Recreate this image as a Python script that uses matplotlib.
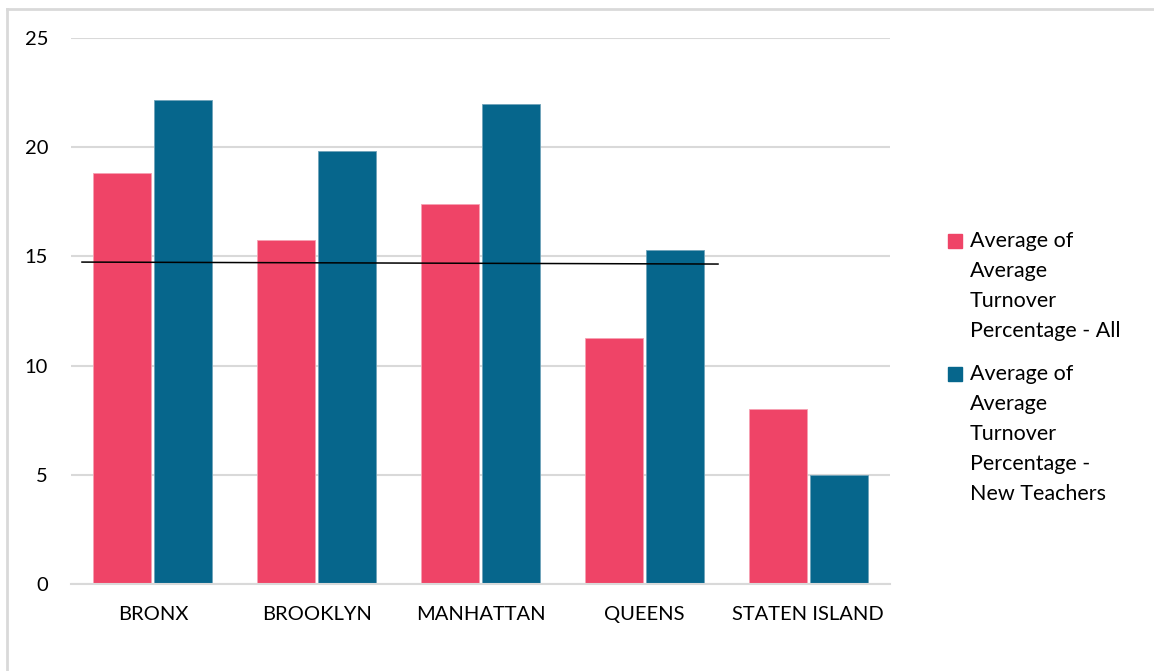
import matplotlib.pyplot as plt
from matplotlib.lines import Line2D
from matplotlib.patches import Rectangle
import numpy as np

plt.rcParams['font.family'] = ['Lato', 'DejaVu Sans']

boroughs = ['BRONX', 'BROOKLYN', 'MANHATTAN', 'QUEENS', 'STATEN ISLAND']
turnover_all = [18.82, 15.75, 17.40, 11.26, 8.01]
turnover_new = [22.16, 19.83, 21.98, 15.29, 4.99]
series_labels = ['Average of\nAverage\nTurnover\nPercentage - All',
                 'Average of\nAverage\nTurnover\nPercentage -\nNew Teachers']
y_ticks = [0, 5, 10, 15, 20, 25]

# hand-drawn reference line across the bars
ref_x = [-0.433, 3.45]
ref_y = [14.74, 14.65]

pink = '#EF4467'
blue = '#06668C'

fig = plt.figure(figsize=(11.54, 6.71), dpi=100)
W, H = 1154, 671
ax = fig.add_axes([71 / W, 1 - 584 / H, (890 - 71) / W, (584 - 38) / H])

x = np.arange(len(boroughs))
w = 0.354
off = 0.186
ax.bar(x - off, turnover_all, w, color=pink, edgecolor='#F7A0B2', linewidth=0.6, zorder=2)
ax.bar(x + off, turnover_new, w, color=blue, edgecolor='#6FA3BA', linewidth=0.6, zorder=2)
ax.plot(ref_x, ref_y, color='black', linewidth=1.1, zorder=3)

ax.set_xlim(-0.5, len(boroughs) - 0.5)
ax.set_ylim(0, 25)
ax.set_yticks(y_ticks)
ax.set_xticks(x)
ax.set_xticklabels(boroughs)
ax.grid(axis='y', color='#D9D9D9', linewidth=1.5, zorder=0)
ax.set_axisbelow(True)
for s in ['top', 'right', 'left']:
    ax.spines[s].set_visible(False)
ax.spines['bottom'].set_color('#D9D9D9')
ax.spines['bottom'].set_linewidth(1.5)
ax.tick_params(axis='both', length=0, labelsize=14.5, colors='black')
ax.tick_params(axis='x', pad=16)
ax.tick_params(axis='y', pad=16.5)

# legend, squares aligned with the first line of each label
for label, color, top in zip(series_labels, [pink, blue], [231, 364]):
    fig.patches.append(Rectangle((948 / W, 1 - (top + 17) / H), 14 / W, 14 / H,
                                 transform=fig.transFigure, color=color))
    fig.text(970 / W, 1 - top / H, label, fontsize=15.5, va='top', ha='left',
             linespacing=1.62)

# outer frame (top and left edges)
fig.add_artist(Line2D([7 / W, 1], [1 - 9 / H, 1 - 9 / H], color='#D9D9D9',
                      linewidth=2, transform=fig.transFigure))
fig.add_artist(Line2D([7 / W, 7 / W], [0, 1 - 9 / H], color='#D9D9D9',
                      linewidth=2, transform=fig.transFigure))

fig.savefig('out.png', dpi=100)
